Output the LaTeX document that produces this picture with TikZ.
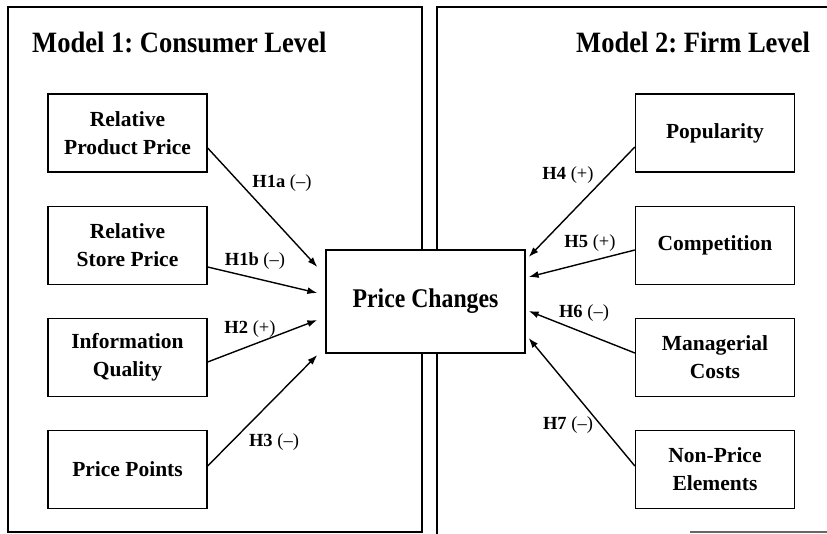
\documentclass[tikz,border=0pt]{standalone}
\usepackage{fontspec}
\setmainfont{Liberation Serif}
\newfontfamily\titlefont[FakeStretch=0.9]{Liberation Serif}
\newfontfamily\centerfont[FakeStretch=0.88]{Liberation Serif}
\usetikzlibrary{arrows.meta,calc}
\frenchspacing
\tikzset{
  panel/.style={draw=black, line width=1.2pt},
  box/.style={draw=black, line width=1.3pt, minimum width=159pt, minimum height=78pt,
    align=center, inner sep=0pt, font=\fontsize{21.5}{28}\selectfont\bfseries},
  hub/.style={draw=black, fill=white, line width=1.3pt, minimum width=199pt, minimum height=103pt,
    inner sep=0pt, font=\centerfont\fontsize{27}{30}\selectfont\bfseries},
  heading/.style={anchor=base west, inner sep=0pt, font=\titlefont\fontsize{29.5}{34}\selectfont\bfseries},
  hyp/.style={inner sep=0pt, font=\fontsize{18.5}{20}\selectfont},
  link/.style={line width=1.4pt, -{Latex[length=10pt,width=7pt]}}
}
\begin{document}
\begin{tikzpicture}[x=1pt,y=-1pt]
\useasboundingbox (0,0) rectangle (827,534);
% panels
\draw[panel] (8,7) rectangle (422,532);
\draw[panel] (827,7) -- (437,7) -- (437,534);
\draw[panel, draw=black!60] (690,532) -- (827,532);
% headings
\node[heading] (t1) at (32,53) {Model 1: Consumer Level};
\node[heading] (t2) at (576,53) {Model 2: Firm Level};
% boxes
\node[box] (b1) at (127.5,133) {Relative\\Product Price};
\node[box] (b2) at (127.5,245.5) {Relative\\Store Price};
\node[box] (b3) at (127.5,357.5) {Information\\Quality};
\node[box] (b4) at (127.5,469.5) {Price Points};
\node[box] (r1) at (715,133) {Popularity};
\node[box] (r2) at (715,245.5) {Competition};
\node[box] (r3) at (715,357.5) {Managerial\\Costs};
\node[box] (r4) at (715,469.5) {Non-Price\\Elements};
\node[hub] (pc) at (425.5,301.5) {Price Changes};
% connectors
\draw[link] ($(b1.east)+(0,15)$) -- ($(pc.west)+(-8,-34.5)$);
\draw[link] ($(b2.east)+(0,21.5)$) -- ($(pc.west)+(-8,-8.5)$);
\draw[link] ($(b3.east)+(0,4.5)$) -- ($(pc.west)+(-8,18.5)$);
\draw[link] ($(b4.east)+(0,-3.5)$) -- ($(pc.west)+(-8,53.5)$);
\draw[link] ($(r1.west)+(0,14)$) -- ($(pc.east)+(3,-44.5)$);
\draw[link] ($(r2.west)+(0,4.5)$) -- ($(pc.east)+(3,-24.5)$);
\draw[link] ($(r3.west)+(0,-4.5)$) -- ($(pc.east)+(3,9.5)$);
\draw[link] ($(r4.west)+(0,-3.5)$) -- ($(pc.east)+(3,36.5)$);
% labels
\node[hyp] (h1a) at (282,183) {\textbf{H1a} (--)};
\node[hyp] (h1b) at (255,261) {\textbf{H1b} (--)};
\node[hyp] (h2) at (250,329) {\textbf{H2} (+)};
\node[hyp] (h3) at (274,442) {\textbf{H3} (--)};
\node[hyp] (h4) at (568,175) {\textbf{H4} (+)};
\node[hyp] (h5) at (590,243) {\textbf{H5} (+)};
\node[hyp] (h6) at (584,313) {\textbf{H6} (--)};
\node[hyp] (h7) at (568,425) {\textbf{H7} (--)};
\end{tikzpicture}
\end{document}
